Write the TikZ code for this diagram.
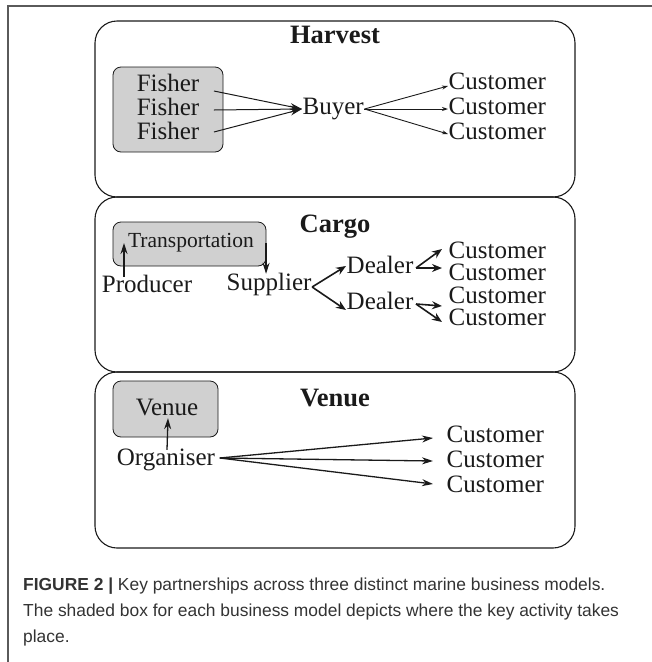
\documentclass[tikz,border=0pt]{standalone}
\usepackage{fontspec}
\setmainfont{Liberation Serif}
\newfontfamily\capfont{Liberation Sans}
\usetikzlibrary{arrows.meta}
\definecolor{shade}{HTML}{D0D0D0}
\definecolor{ink}{HTML}{1A1A1A}
\definecolor{frame}{HTML}{5A5A5A}
\definecolor{captxt}{HTML}{333333}
\tikzset{
  model/.style={draw=ink, line width=1.1pt, rounded corners=22pt},
  shadebox/.style={draw=ink, line width=0.8pt, fill=shade, rounded corners=8pt},
  lbl/.style={font=\fontsize{25}{27}\selectfont, text=ink, inner sep=0.5pt, text height=15pt, text depth=4pt},
  smalllbl/.style={font=\fontsize{21.5}{23}\selectfont, text=ink, inner sep=1pt},
  title/.style={font=\bfseries\fontsize{26.5}{28}\selectfont, text=ink, inner sep=1pt},
  thin/.style={draw=ink, line width=0.9pt, -{Stealth[length=6pt,width=4pt]}},
  merge/.style={draw=ink, line width=1pt, -{Stealth[length=12pt,width=7pt]}},
  bold/.style={draw=ink, line width=1.6pt, -{Stealth[length=10pt,width=8pt]}},
  mid/.style={draw=ink, line width=1.3pt, -{Stealth[length=11pt,width=7pt]}},
  caption/.style={font=\capfont\fontsize{17.4}{20}\selectfont, text=captxt, anchor=base west, inner sep=0pt}
}
\begin{document}
\begin{tikzpicture}[x=1pt,y=-1pt]
\useasboundingbox (0,0) rectangle (652,662);
% outer frame (top and left)
\draw[frame, line width=1.2pt] (652,6) -- (8,6) -- (8,662);

% ---------------- Harvest ----------------
\draw[model] (95,21) rectangle (575,197);
\node[title] (ht) at (335,35) {Harvest};
\draw[shadebox] (113,67) rectangle (223,152);
\node[lbl] (f1) at (168,86) {Fisher};
\node[lbl] (f2) at (168,110) {Fisher};
\node[lbl] (f3) at (168,134) {Fisher};
\node[lbl, anchor=west] (buyer) at (302,109) {Buyer};
\node[lbl, anchor=west] (hc1) at (448,84) {Customer};
\node[lbl, anchor=west] (hc2) at (448,109) {Customer};
\node[lbl, anchor=west] (hc3) at (448,134) {Customer};
\draw[merge] ([xshift=14pt,yshift=-5pt]f1.east) -- (buyer.west);
\draw[merge] ([xshift=14pt]f2.east) -- (buyer.west);
\draw[merge] ([xshift=14pt,yshift=2pt]f3.east) -- (buyer.west);
\draw[thin] (buyer.east) -- ([yshift=-2pt]hc1.west);
\draw[thin] (buyer.east) -- (hc2.west);
\draw[thin] (buyer.east) -- (hc3.west);

% ---------------- Cargo ----------------
\draw[model] (95,197) rectangle (575,372);
\node[title] (ct) at (335,227) {Cargo};
\draw[shadebox] (113,222) rectangle (266,266);
\node[smalllbl] (trans) at (191,243) {Transportation};
\node[lbl] (prod) at (147,287) {Producer};
\node[lbl, anchor=west] (sup) at (226,285) {Supplier};
\node[lbl, anchor=west] (d1) at (346,268) {Dealer};
\node[lbl, anchor=west] (d2) at (346,304) {Dealer};
\node[lbl, anchor=west] (cc1) at (448,253) {Customer};
\node[lbl, anchor=west] (cc2) at (448,275) {Customer};
\node[lbl, anchor=west] (cc3) at (448,298) {Customer};
\node[lbl, anchor=west] (cc4) at (448,320) {Customer};
\draw[mid] ([xshift=-23pt]prod.north) -- ([xshift=-23pt]prod.north |- trans.center);
\draw[mid] ([xshift=-3pt]sup.north |- trans.center) -- ([xshift=-3pt,yshift=1pt]sup.north);
\draw[bold] ([yshift=-2pt]sup.east) -- ([yshift=2pt]d1.west);
\draw[bold] ([yshift=-2pt]sup.east) -- ([yshift=-6pt]d2.west);
\draw[bold] ([xshift=2pt]d1.east) -- ([xshift=-6pt,yshift=4pt]cc1.west);
\draw[bold] ([xshift=2pt]d1.east) -- ([xshift=-6pt,yshift=7pt]cc2.west);
\draw[bold] ([xshift=2pt]d2.east) -- ([xshift=-6pt,yshift=-8pt]cc3.west);
\draw[bold] ([xshift=2pt]d2.east) -- ([xshift=-6pt,yshift=-2pt]cc4.west);

% ---------------- Venue ----------------
\draw[model] (95,372) rectangle (575,548);
\node[title] (vt) at (335,398) {Venue};
\draw[shadebox] (113,381) rectangle (218,437);
\node[lbl] (vbox) at (167,410) {Venue};
\node[lbl] (org) at (166,460) {Organiser};
\node[lbl, anchor=west] (vc1) at (446,437) {Customer};
\node[lbl, anchor=west] (vc2) at (446,462) {Customer};
\node[lbl, anchor=west] (vc3) at (446,487) {Customer};
\draw[mid] ([xshift=1pt]org.north) -- ([xshift=1pt,yshift=2pt]vbox.south);
\draw[mid] ([xshift=4pt,yshift=2pt]org.east) -- ([xshift=-13pt,yshift=-1pt]vc1.west);
\draw[mid] ([xshift=4pt,yshift=2pt]org.east) -- ([xshift=-13pt,yshift=1pt]vc2.west);
\draw[mid] ([xshift=4pt,yshift=2pt]org.east) -- ([xshift=-13pt,yshift=3pt]vc3.west);

% ---------------- Caption ----------------
\node[caption] (cap1) at (23,590) {\textbf{FIGURE 2 |} Key partnerships across three distinct marine business models.};
\node[caption] (cap2) at (23,616) {The shaded box for each business model depicts where the key activity takes};
\node[caption] (cap3) at (23,642) {place.};
\end{tikzpicture}
\end{document}
